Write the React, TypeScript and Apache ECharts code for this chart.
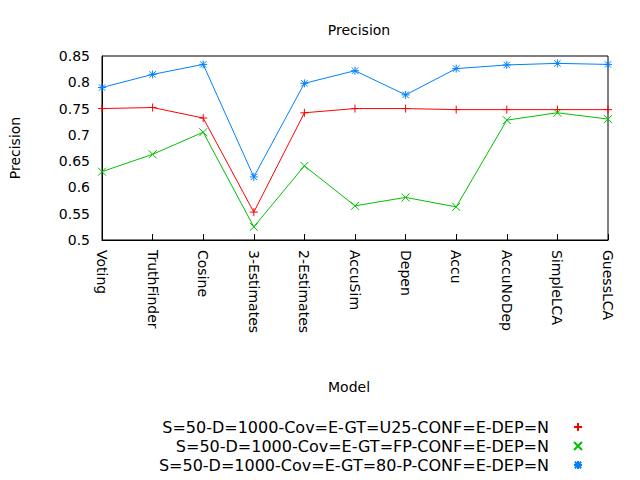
import React, { useEffect, useRef } from 'react';
import * as echarts from 'echarts';

const models = ['Voting', 'TruthFinder', 'Cosine', '3-Estimates', '2-Estimates', 'AccuSim', 'Depen', 'Accu', 'AccuNoDep', 'SimpleLCA', 'GuessLCA'];
const seriesNames = [
  'S=50-D=1000-Cov=E-GT=U25-CONF=E-DEP=N',
  'S=50-D=1000-Cov=E-GT=FP-CONF=E-DEP=N',
  'S=50-D=1000-Cov=E-GT=80-P-CONF=E-DEP=N',
];
const u25 = [0.75, 0.752, 0.732, 0.553, 0.742, 0.75, 0.75, 0.748, 0.748, 0.748, 0.748];
const fp = [0.63, 0.663, 0.705, 0.525, 0.641, 0.565, 0.581, 0.563, 0.728, 0.742, 0.73];
const p80 = [0.79, 0.815, 0.834, 0.62, 0.798, 0.822, 0.776, 0.826, 0.833, 0.836, 0.834];
const colors = ['#ff0000', '#00c000', '#0080ff'];
const symbols = [
  'path://M0,5L10,5M5,0L5,10',
  'path://M0,0L10,10M0,10L10,0',
  'path://M0,5L10,5M5,0L5,10M1,1L9,9M1,9L9,1',
];
const font = 'DejaVu Sans, sans-serif';

export default function App() {
  const ref = useRef<HTMLDivElement | null>(null);

  useEffect(() => {
    if (!ref.current) return;
    const chart = echarts.init(ref.current, undefined, { renderer: 'svg' });
    const data = [u25, fp, p80];
    chart.setOption({
      animation: false,
      backgroundColor: '#fff',
      textStyle: { fontFamily: font },
      title: { text: 'Precision', left: 354, textAlign: 'center', top: 18, textStyle: { fontSize: 14, fontWeight: 'normal', color: '#000', fontFamily: font } },
      grid: { left: 100, right: 32, top: 56, bottom: 240, show: true, borderColor: '#000', borderWidth: 1 },
      xAxis: {
        type: 'category', data: models, boundaryGap: false,
        axisLine: { lineStyle: { color: '#000' } },
        axisTick: { inside: true, length: 6, lineStyle: { color: '#000' } },
        axisLabel: { rotate: -90, color: '#000', fontSize: 14, margin: 10, interval: 0 },
        splitLine: { show: false },
      },
      yAxis: {
        type: 'value', min: 0.5, max: 0.85, interval: 0.05,
        name: 'Precision', nameLocation: 'middle', nameGap: 80, nameRotate: 90,
        nameTextStyle: { color: '#000', fontSize: 14 },
        axisLine: { show: true, lineStyle: { color: '#000' } },
        axisTick: { inside: true, length: 6, lineStyle: { color: '#000' } },
        axisLabel: { color: '#000', fontSize: 14, margin: 12, formatter: (v: number) => String(+v.toFixed(2)) },
        splitLine: { show: false },
      },
      legend: {
        orient: 'vertical', right: 52, top: 414, align: 'right', itemWidth: 48, itemHeight: 8, itemGap: 3,
        textStyle: { color: '#000', fontSize: 16, fontFamily: font },
        data: seriesNames.map((n, i) => ({ name: n, icon: symbols[i] })),
      },
      graphic: [
        { type: 'text', left: 328, top: 380, style: { text: 'Model', fontSize: 14, fill: '#000', fontFamily: font } },
      ],
      series: seriesNames.map((n, i) => ({
        name: n, type: 'line', data: data[i],
        symbol: symbols[i], symbolSize: 8, showSymbol: true,
        lineStyle: { color: colors[i], width: 1 },
        itemStyle: { color: colors[i], borderColor: colors[i], borderWidth: 1 },
      })),
    });
    return () => chart.dispose();
  }, []);

  return <div ref={ref} style={{ width: 640, height: 480, margin: -8 }} />;
}
